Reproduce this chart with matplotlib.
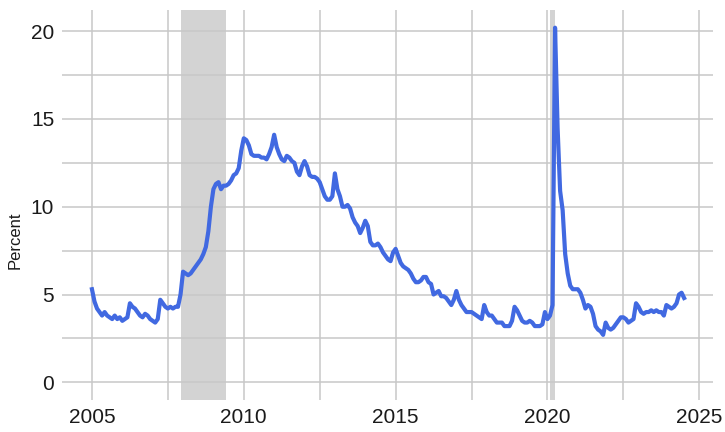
import numpy as np
import matplotlib
matplotlib.use("Agg")
import matplotlib.pyplot as plt

# monthly unemployment rate, Jan 2005 - Jul 2024
start_year = 2005
rate = [
    5.3, 4.6, 4.2, 4.0, 3.8, 4.0, 3.8, 3.7, 3.6, 3.8, 3.6, 3.7,      # 2005
    3.5, 3.6, 3.7, 4.5, 4.3, 4.2, 4.0, 3.8, 3.7, 3.9, 3.8, 3.6,      # 2006
    3.5, 3.4, 3.6, 4.7, 4.5, 4.3, 4.2, 4.3, 4.2, 4.3, 4.3, 5.0,      # 2007
    6.3, 6.2, 6.1, 6.2, 6.4, 6.6, 6.8, 7.0, 7.3, 7.7, 8.6, 10.0,     # 2008
    11.0, 11.3, 11.4, 11.0, 11.2, 11.2, 11.3, 11.5, 11.8, 11.9, 12.2, 13.2,  # 2009
    13.9, 13.8, 13.5, 13.0, 12.9, 12.9, 12.9, 12.8, 12.8, 12.7, 13.0, 13.4,  # 2010
    14.1, 13.4, 13.0, 12.7, 12.6, 12.9, 12.8, 12.6, 12.5, 12.0, 11.8, 12.3,  # 2011
    12.6, 12.3, 11.8, 11.7, 11.7, 11.6, 11.4, 11.0, 10.6, 10.4, 10.4, 10.6,  # 2012
    11.9, 11.0, 10.6, 10.0, 10.0, 10.1, 9.9, 9.4, 9.1, 8.9, 8.5, 8.8,        # 2013
    9.2, 8.9, 8.0, 7.8, 7.8, 7.9, 7.7, 7.4, 7.2, 7.0, 6.9, 7.4,      # 2014
    7.6, 7.2, 6.8, 6.6, 6.5, 6.4, 6.2, 5.9, 5.7, 5.7, 5.8, 6.0,      # 2015
    6.0, 5.7, 5.6, 5.0, 5.1, 5.2, 4.9, 4.9, 4.8, 4.6, 4.4, 4.7,      # 2016
    5.2, 4.7, 4.4, 4.2, 4.0, 4.0, 4.0, 3.9, 3.8, 3.7, 3.6, 4.4,      # 2017
    4.0, 3.8, 3.8, 3.6, 3.4, 3.4, 3.4, 3.2, 3.2, 3.2, 3.5, 4.3,      # 2018
    4.1, 3.8, 3.5, 3.4, 3.4, 3.5, 3.4, 3.2, 3.2, 3.2, 3.3, 4.0,      # 2019
    3.6, 3.8, 4.4, 20.2, 14.5, 10.9, 9.8, 7.3, 6.2, 5.5, 5.3, 5.3,   # 2020
    5.3, 5.1, 4.7, 4.2, 4.4, 4.3, 3.9, 3.2, 3.0, 2.9, 2.7, 3.4,      # 2021
    3.1, 3.0, 3.1, 3.3, 3.5, 3.7, 3.7, 3.6, 3.4, 3.5, 3.6, 4.5,      # 2022
    4.3, 4.0, 3.9, 4.0, 4.0, 4.1, 4.0, 4.1, 4.0, 4.0, 3.8, 4.4,      # 2023
    4.3, 4.2, 4.3, 4.5, 5.0, 5.1, 4.8,                               # 2024
]

# recessions (decimal years)
rec_start = [2007.917, 2020.083]
rec_end = [2009.417, 2020.25]

x_ticks = [2005, 2010, 2015, 2020, 2025]
y_ticks = [0, 5, 10, 15, 20]

t = start_year + np.arange(len(rate)) / 12.0

plt.rcParams['font.family'] = ['Liberation Sans', 'DejaVu Sans']

fig = plt.figure(figsize=(7.25, 4.32), dpi=100)
ax = fig.add_axes([0.0862, 0.0741, 0.8972, 0.9028])

for s, e in zip(rec_start, rec_end):
    ax.axvspan(s, e, color='#d3d3d3', lw=0, zorder=0)

ax.plot(t, rate, color='#4169e1', lw=3.0, zorder=3, solid_joinstyle='round')

ax.set_xlim(2004.03, 2025.45)
ax.set_ylim(-1.01, 21.21)
ax.set_xticks(x_ticks)
ax.set_xticks(np.arange(2007.5, 2025, 5), minor=True)
ax.set_yticks(y_ticks)
ax.set_yticks(np.arange(2.5, 20, 5), minor=True)

ax.grid(True, which='both', color='#c8c8c8', lw=1.1, zorder=1)
ax.set_axisbelow(False)
for ln in ax.get_xgridlines() + ax.get_ygridlines():
    ln.set_zorder(1)

for sp in ax.spines.values():
    sp.set_visible(False)
ax.tick_params(which='both', length=0)
ax.tick_params(axis='both', labelsize=15, labelcolor='#1a1a1a', pad=6)

ax.set_ylabel('Percent', fontsize=12, color='#1a1a1a', labelpad=6)
ax.yaxis.label.set_y(0.41)

fig.savefig('out.png', dpi=100)
